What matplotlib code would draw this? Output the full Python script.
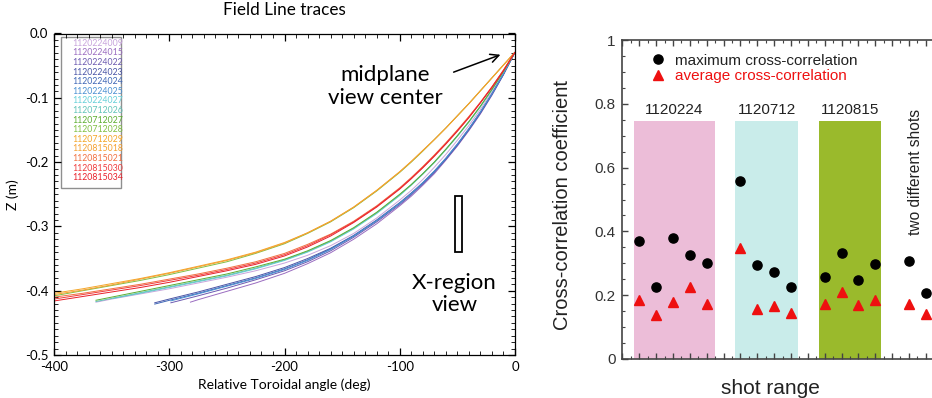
import matplotlib
matplotlib.use("Agg")
import matplotlib.pyplot as plt
from matplotlib.patches import Rectangle
from matplotlib.ticker import MultipleLocator, FixedLocator, FormatStrFormatter

plt.rcParams['axes.unicode_minus'] = False

# ---------------- Field line traces (toroidal angle in deg, Z in m) ----------------
phi_400 = [0, -10, -20, -30, -40, -50, -60, -70, -80, -90, -100, -120, -140, -160, -180,
           -200, -225, -250, -275, -300, -325, -350, -375, -400]
phi_364 = [0, -10, -20, -30, -40, -50, -60, -70, -80, -90, -100, -120, -140, -160, -180,
           -200, -225, -250, -275, -300, -325, -350, -364]
phi_349 = [0, -10, -20, -30, -40, -50, -60, -70, -80, -90, -100, -120, -140, -160, -180,
           -200, -225, -250, -275, -300, -325, -349]
phi_313 = [0, -10, -20, -30, -40, -50, -60, -70, -80, -90, -100, -120, -140, -160, -180,
           -200, -225, -250, -275, -300, -313]
phi_299 = [0, -10, -20, -30, -40, -50, -60, -70, -80, -90, -100, -120, -140, -160, -180,
           -200, -225, -250, -275, -299]
phi_282 = [0, -10, -20, -30, -40, -50, -60, -70, -80, -90, -100, -120, -140, -160, -180,
           -200, -225, -250, -275, -282]

z_1120224009 = [-0.029, -0.062, -0.091, -0.118, -0.143, -0.166, -0.188, -0.208, -0.227, -0.244, -0.259,
                -0.287, -0.311, -0.330, -0.345, -0.357, -0.369, -0.379, -0.388, -0.397, -0.405, -0.413, -0.418]
z_1120224015 = [-0.029, -0.064, -0.096, -0.125, -0.151, -0.175, -0.197, -0.218, -0.236, -0.253, -0.268,
                -0.296, -0.320, -0.341, -0.358, -0.373, -0.388, -0.401, -0.414, -0.418]
z_1120224022 = [-0.029, -0.064, -0.095, -0.124, -0.150, -0.174, -0.196, -0.216, -0.234, -0.251, -0.266,
                -0.293, -0.317, -0.338, -0.355, -0.369, -0.383, -0.396, -0.408, -0.419]
z_1120224023 = [-0.029, -0.063, -0.094, -0.122, -0.148, -0.172, -0.194, -0.214, -0.232, -0.248, -0.263,
                -0.290, -0.314, -0.334, -0.350, -0.364, -0.378, -0.390, -0.402, -0.413, -0.419]
z_1120224024 = [-0.029, -0.063, -0.094, -0.123, -0.149, -0.173, -0.195, -0.215, -0.233, -0.249, -0.264,
                -0.291, -0.315, -0.335, -0.352, -0.366, -0.380, -0.392, -0.404, -0.415, -0.421]
z_1120224025 = [-0.029, -0.063, -0.094, -0.122, -0.148, -0.172, -0.194, -0.214, -0.232, -0.249, -0.264,
                -0.291, -0.315, -0.336, -0.353, -0.367, -0.381, -0.393, -0.405, -0.416]
z_1120224027 = [-0.029, -0.060, -0.088, -0.114, -0.138, -0.160, -0.181, -0.201, -0.219, -0.236, -0.252,
                -0.280, -0.304, -0.324, -0.340, -0.353, -0.366, -0.377, -0.386, -0.395, -0.404, -0.412]
z_1120712026 = [-0.029, -0.059, -0.087, -0.113, -0.137, -0.159, -0.180, -0.200, -0.218, -0.235, -0.251,
                -0.279, -0.303, -0.323, -0.339, -0.352, -0.365, -0.376, -0.385, -0.394, -0.403, -0.412, -0.417]
z_1120712027 = [-0.029, -0.059, -0.087, -0.113, -0.137, -0.159, -0.180, -0.200, -0.218, -0.235, -0.250,
                -0.278, -0.302, -0.322, -0.338, -0.351, -0.363, -0.374, -0.383, -0.392, -0.401, -0.410, -0.415]
z_1120712028 = [-0.029, -0.049, -0.069, -0.089, -0.109, -0.128, -0.147, -0.165, -0.183, -0.200, -0.216,
                -0.245, -0.271, -0.293, -0.311, -0.327, -0.342, -0.355, -0.365, -0.375, -0.384, -0.392, -0.400, -0.408]
z_1120712029 = [-0.029, -0.049, -0.069, -0.089, -0.109, -0.128, -0.147, -0.165, -0.182, -0.199, -0.215,
                -0.244, -0.270, -0.292, -0.310, -0.325, -0.340, -0.352, -0.362, -0.372, -0.381, -0.389, -0.397, -0.404]
z_1120815018 = [-0.029, -0.049, -0.069, -0.089, -0.109, -0.128, -0.147, -0.165, -0.182, -0.199, -0.215,
                -0.244, -0.270, -0.292, -0.310, -0.326, -0.341, -0.353, -0.363, -0.373, -0.382, -0.391, -0.399, -0.406]
z_1120815021 = [-0.029, -0.057, -0.083, -0.107, -0.129, -0.150, -0.170, -0.189, -0.207, -0.224, -0.240,
                -0.268, -0.292, -0.312, -0.328, -0.342, -0.355, -0.365, -0.374, -0.382, -0.390, -0.397, -0.404, -0.410]
z_1120815030 = [-0.029, -0.057, -0.083, -0.107, -0.130, -0.151, -0.171, -0.190, -0.208, -0.225, -0.241,
                -0.269, -0.293, -0.313, -0.330, -0.344, -0.357, -0.367, -0.376, -0.384, -0.392, -0.399, -0.406, -0.413]
z_1120815034 = [-0.029, -0.058, -0.084, -0.108, -0.131, -0.152, -0.172, -0.191, -0.209, -0.226, -0.242,
                -0.270, -0.294, -0.315, -0.332, -0.346, -0.359, -0.369, -0.378, -0.387, -0.395, -0.402, -0.409, -0.416]

shots = ["1120224009", "1120224015", "1120224022", "1120224023", "1120224024",
         "1120224025", "1120224027", "1120712026", "1120712027", "1120712028",
         "1120712029", "1120815018", "1120815021", "1120815030", "1120815034"]
shot_colors = ["#c8a4dc", "#9a6cc0", "#6c5ab0", "#4a55a6", "#3f67b6",
               "#4a90d2", "#66d0d8", "#62c4b8", "#5cae30", "#80c044",
               "#f4a628", "#f5a030", "#f27040", "#f03c3c", "#e8202a"]
shot_phi = [phi_364, phi_282, phi_299, phi_313, phi_313,
            phi_299, phi_349, phi_364, phi_364, phi_400,
            phi_400, phi_400, phi_400, phi_400, phi_400]
shot_z = [z_1120224009, z_1120224015, z_1120224022, z_1120224023, z_1120224024,
          z_1120224025, z_1120224027, z_1120712026, z_1120712027, z_1120712028,
          z_1120712029, z_1120815018, z_1120815021, z_1120815030, z_1120815034]

# ---------------- Cross-correlation per shot range ----------------
pos_1120224 = [1, 2, 3, 4, 5]
max_1120224 = [0.370, 0.225, 0.380, 0.325, 0.300]
avg_1120224 = [0.185, 0.138, 0.178, 0.225, 0.171]
pos_1120712 = [7, 8, 9, 10]
max_1120712 = [0.559, 0.294, 0.274, 0.227]
avg_1120712 = [0.349, 0.158, 0.167, 0.143]
pos_1120815 = [12, 13, 14, 15]
max_1120815 = [0.257, 0.333, 0.247, 0.297]
avg_1120815 = [0.171, 0.210, 0.169, 0.185]
pos_two = [17, 18]
max_two = [0.308, 0.206]
avg_two = [0.171, 0.140]

range_labels = ["1120224", "1120712", "1120815"]
range_spans = [(0.70, 5.47), (6.70, 10.40), (11.65, 15.33)]
range_colors = ["#ecbdd8", "#c9ecea", "#9aba2c"]

W, H = 932, 398
fig = plt.figure(figsize=(W / 100, H / 100), dpi=100)

# ======================= left panel =======================
LF = "Lato"
AX_TOP, AX_BOT = 33.5, 355.0
AX_H = AX_BOT - AX_TOP
ax1 = fig.add_axes([54 / W, 1 - AX_BOT / H, 461 / W, AX_H / H])
for phi, z, c in zip(shot_phi, shot_z, shot_colors):
    ax1.plot(phi, z, color=c, lw=0.7, solid_capstyle='butt', solid_joinstyle='round')

ax1.set_xlim(-400, 0)
ax1.set_ylim(-0.5, 0.0)
ax1.xaxis.set_major_locator(MultipleLocator(100))
ax1.xaxis.set_minor_locator(MultipleLocator(10))
ax1.yaxis.set_major_locator(MultipleLocator(0.1))
ax1.yaxis.set_minor_locator(MultipleLocator(0.01))
ax1.yaxis.set_major_formatter(FormatStrFormatter('%.1f'))
ax1.tick_params(which='both', direction='in', top=True, right=True, color='black')
ax1.tick_params(which='major', length=5, width=0.9, labelsize=9.5, pad=4)
ax1.tick_params(which='minor', length=2.6, width=0.6)
for lab in ax1.get_xticklabels() + ax1.get_yticklabels():
    lab.set_fontfamily(LF)
for sp in ax1.spines.values():
    sp.set_linewidth(0.9)

ax1.set_title("Field Line traces", fontfamily=LF, fontsize=12.3, y=(AX_BOT - 18) / AX_H, va='center')
ax1.set_xlabel("Relative Toroidal angle (deg)", fontfamily=LF, fontsize=10, va='center')
ax1.xaxis.set_label_coords(0.5, (AX_BOT - 385) / AX_H)
ax1.set_ylabel("Z (m)", fontfamily=LF, fontsize=10, va='center')
ax1.yaxis.set_label_coords((13 - 54) / 461, 0.5)

# shot list box
ax1.add_patch(Rectangle((0.0152, (AX_BOT - 188) / AX_H), 0.130, (188 - 36.7) / AX_H,
                        transform=ax1.transAxes, fill=False, edgecolor='#8f8f8f', lw=1.0))
for i, (s, c) in enumerate(zip(shots, shot_colors)):
    ax1.text(0.039, (AX_BOT - (43.3 + 9.6 * i)) / AX_H, s, color=c, fontsize=6.3,
             fontfamily=LF, va='center', ha='left', transform=ax1.transAxes)

ax1.text(0.718, (AX_BOT - 86.5) / AX_H, "midplane\nview center", ha='center', va='center',
         fontsize=16, fontfamily=LF, linespacing=1.15, transform=ax1.transAxes)
ax1.annotate("", xy=(-10.4, -0.0315), xytext=(-55.5, -0.0616),
             arrowprops=dict(arrowstyle='->,head_length=0.6,head_width=0.3', lw=1.1, color='black'))
ax1.add_patch(Rectangle((-52, -0.340), 6, 0.088, fill=False, edgecolor='black', lw=1.3))
ax1.text(0.869, (AX_BOT - 294) / AX_H, "X-region\nview", ha='center', va='center',
         fontsize=16, fontfamily=LF, linespacing=1.15, transform=ax1.transAxes)

# ======================= right panel =======================
RF = "Liberation Sans"
GRAY = "#444444"
ax2 = fig.add_axes([622.45 / W, 1 - 359 / H, 337 / W, 319 / H])
ax2.set_xlim(0, 20)
ax2.set_ylim(0, 1)

for (x0, x1), c, lab in zip(range_spans, range_colors, range_labels):
    ax2.axvspan(x0, x1, ymin=0, ymax=0.745, color=c, lw=0, zorder=0)
    ax2.text((x0 + x1) / 2, 0.78, lab, ha='center', va='center', fontsize=11,
             fontfamily=RF, color='#222222')
ax2.text(17.4, 0.586, "two different shots", rotation=90, ha='center', va='center',
         fontsize=11.2, fontfamily=RF, color='#222222')

ms = 6.6
first = True
for pos, mx, av in [(pos_1120224, max_1120224, avg_1120224),
                    (pos_1120712, max_1120712, avg_1120712),
                    (pos_1120815, max_1120815, avg_1120815),
                    (pos_two, max_two, avg_two)]:
    ax2.plot(pos, mx, 'o', color='black', ms=ms, mec='black',
             label="maximum cross-correlation" if first else None, zorder=3)
    ax2.plot(pos, av, '^', color='#ee1010', ms=ms, mec='#ee1010',
             label="average cross-correlation" if first else None, zorder=3)
    first = False

leg = ax2.legend(loc='center left', bbox_to_anchor=(0.0832, 0.9107), frameon=False,
                 borderpad=0, borderaxespad=0, handlelength=1.0, handletextpad=0.6,
                 labelspacing=0.1, prop={'family': RF, 'size': 11}, numpoints=1)
leg.get_texts()[0].set_color('#222222')
leg.get_texts()[1].set_color('#ee1010')

ax2.xaxis.set_major_locator(MultipleLocator(1))
ax2.xaxis.set_minor_locator(MultipleLocator(0.5))
ax2.yaxis.set_major_locator(FixedLocator([0, 0.2, 0.4, 0.6, 0.8, 1.0]))
ax2.yaxis.set_minor_locator(MultipleLocator(0.05))
ax2.set_yticklabels(["0", "0.2", "0.4", "0.6", "0.8", "1"])
ax2.set_xticklabels([])
ax2.tick_params(which='both', direction='in', top=True, right=True, color=GRAY)
ax2.tick_params(which='major', length=4, width=1.0, labelsize=11, pad=5, labelcolor='#333333')
ax2.tick_params(which='minor', length=2.5, width=0.8)
for lab in ax2.get_yticklabels():
    lab.set_fontfamily(RF)
for sp in ax2.spines.values():
    sp.set_color(GRAY)
    sp.set_linewidth(1.2)

ax2.set_ylabel("Cross-correlation coefficient", fontsize=14.5, fontfamily=RF, color='#222222', va='center')
ax2.yaxis.set_label_coords((563 - 622.45) / 337, 0.483)
ax2.set_xlabel("shot range", fontsize=15, fontfamily=RF, color='#222222', va='center')
ax2.xaxis.set_label_coords((770 - 622.45) / 337, (359 - 388) / 319)

fig.savefig("out.png", dpi=100)
